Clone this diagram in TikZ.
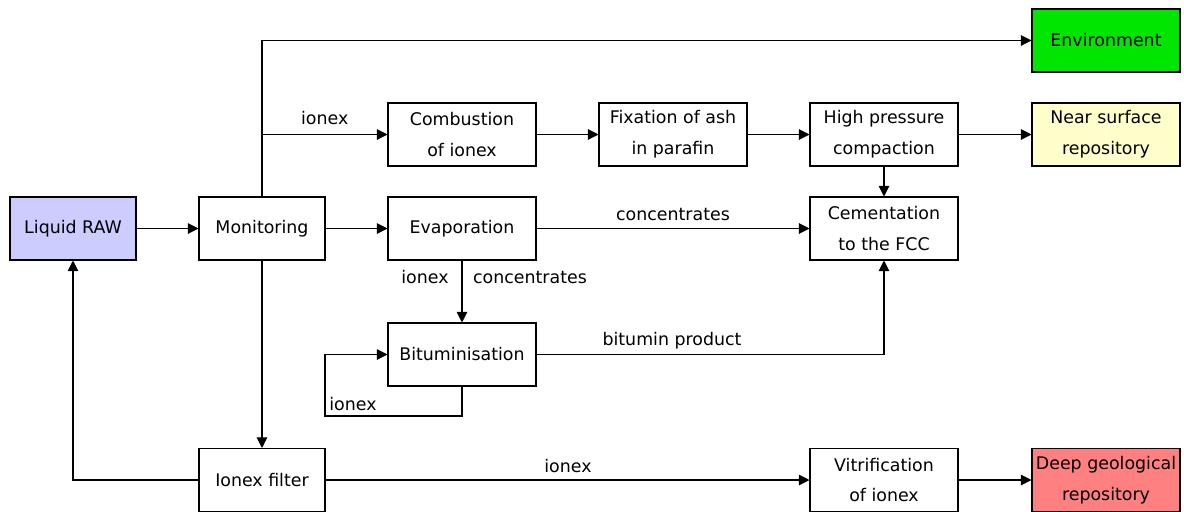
\documentclass[tikz,border=0pt]{standalone}
\usepackage{fontspec}
\setmainfont{DejaVu Sans}
\usetikzlibrary{arrows.meta}
\definecolor{rawblue}{HTML}{CCCCFF}
\definecolor{envgreen}{HTML}{00E600}
\definecolor{nearyellow}{HTML}{FFFFCC}
\definecolor{deepred}{HTML}{FF8080}
\begin{document}
\begin{tikzpicture}
[x=0.02cm, y=-0.02cm, font=\fontsize{9.9}{17.6}\selectfont, line width=0.6pt]
\tikzstyle{box}=[rectangle, draw, fill=white, align=center, inner sep=0pt, minimum height=1.26cm]
\tikzstyle{small}=[box, minimum width=2.52cm]
\tikzstyle{wide}=[box, minimum width=2.96cm]
\tikzstyle{flow}=[-{Triangle[length=6pt, width=6pt]}]
\tikzstyle{lbl}=[inner sep=1pt]
\useasboundingbox (0,0) rectangle (1184,511);

\node[small, fill=rawblue]	(LR)	at (73,228.5)	{Liquid RAW};
\node[small]	(Mon)	at (262,228.5)	{Monitoring};
\node[wide]	(Comb)	at (462,134.5)	{Combustion\\of ionex};
\node[wide]	(Fix)	at (673,134.5)	{Fixation of ash\\in parafin};
\node[wide]	(HPC)	at (884,134.5)	{High pressure\\compaction};
\node[wide, fill=nearyellow]	(NSR)	at (1106,134.5)	{Near surface\\repository};
\node[wide, fill=envgreen]	(Env)	at (1106,40.5)	{Environment};
\node[wide]	(Evap)	at (462,228.5)	{Evaporation};
\node[wide]	(Cem)	at (884,228.5)	{Cementation\\to the FCC};
\node[wide]	(Bit)	at (462,354.5)	{Bituminisation};
\node[small]	(IF)	at (262,480)	{Ionex filter};
\node[wide]	(Vit)	at (884,480)	{Vitrification\\of ionex};
\node[wide, fill=deepred]	(DGR)	at (1106,480)	{Deep geological\\repository};

\coordinate (loop) at (325,416);

\draw [flow] (LR)--(Mon);
\draw [flow] (Mon.north) |- (Env.west);
\draw [flow] (Mon.north |- Comb.west)--(Comb.west) node[lbl, midway, above=4pt] (l1) {ionex};
\draw [flow] (Comb)--(Fix);
\draw [flow] (Fix)--(HPC);
\draw [flow] (HPC)--(NSR);
\draw [flow] (HPC)--(Cem);
\draw [flow] (Mon)--(Evap);
\draw [flow] (Evap)--(Cem) node[lbl, midway, above=3pt] (l2) {concentrates};
\draw [flow] (Evap)--(Bit);
\node[lbl] (l3) at (425,277) {ionex};
\node[lbl] (l4) at (530,278) {concentrates};
\draw [flow] (Bit.south) |- (loop) |- (Bit.west);
\node[lbl] (l5) at (353,404) {ionex};
\draw [flow] (Bit.east) -| (Cem.south);
\node[lbl] (l6) at (672,341) {bitumin product};
\draw [flow] (Mon)--(IF);
\draw [flow] (IF.west) -| (LR.south);
\draw [flow] (IF)--(Vit);
\node[lbl] (l7) at (568,466) {ionex};
\draw [flow] (Vit)--(DGR);
\end{tikzpicture}
\end{document}
